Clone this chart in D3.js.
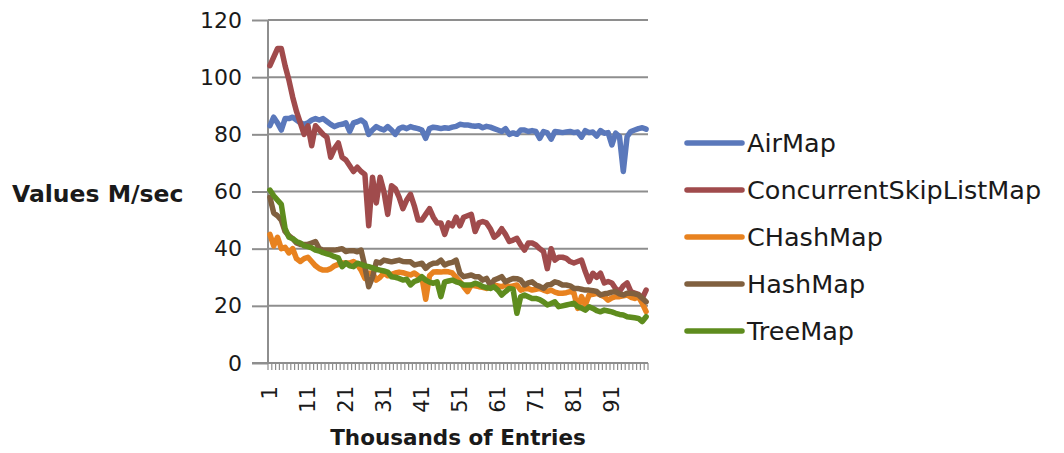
<!DOCTYPE html>
<html>
<head>
<meta charset="utf-8">
<script src="https://cdn.jsdelivr.net/npm/d3@7"></script>
<style>
  html, body { margin: 0; padding: 0; background: #fff; }
  svg { display: block; font-family: "DejaVu Sans", sans-serif; }
</style>
</head>
<body>
<svg id="chart" width="1064" height="453"></svg>
<script>
// Entries in thousands (x categories) and the labelled ones
const categories = d3.range(1, 101);
const xTickLabels = [1, 11, 21, 31, 41, 51, 61, 71, 81, 91];
const yTicks = [0, 20, 40, 60, 80, 100, 120];

const seriesNames = ["AirMap", "ConcurrentSkipListMap", "CHashMap", "HashMap", "TreeMap"];
const seriesColors = ["#5A78BB", "#A04B4C", "#E8821F", "#80603F", "#5E8C1E"];

// Throughput, millions of values per second
const airMap = [
  83, 86, 84, 81.5, 85.5, 85.5, 86, 85, 84, 83.5,
  84, 85, 85.5, 85, 85.5, 84.5, 83.5, 82.7, 83.3, 83.5,
  84, 81, 84, 84.4, 85, 84, 80, 81.5, 82.7, 82,
  81.5, 82.7, 81.5, 80, 82, 82.5, 82, 82.7, 82.3, 82,
  81.5, 78.6, 82, 82.5, 82.3, 82, 82.3, 82.1, 82.5, 82.8,
  83.5, 83.3, 83.3, 83, 82.8, 83, 82.3, 82.8, 82.5, 82,
  81.5, 81, 82, 80, 80.5, 80, 81.5, 81.5, 81, 81.3,
  81, 78.6, 81, 80.5, 78.3, 81, 80.8, 80.6, 80.8, 81,
  80.6, 80.8, 79, 81.3, 80.6, 80.8, 79.4, 81.3, 80.4, 80.6,
  76.3, 80.4, 79.2, 67, 79.2, 81, 81.5, 82, 82.3, 81.8
];
const concurrentSkipListMap = [
  104, 107, 110, 110, 104, 99, 93, 88, 84, 80,
  83, 76, 83, 81.5, 80, 79, 72, 75, 77, 72,
  71, 69, 67, 68.5, 67, 66, 48, 65, 56, 65,
  60, 52, 62, 61, 58, 54, 57, 59, 55, 50,
  50, 52, 54, 51, 49, 49, 45, 49, 48, 51,
  48, 51, 51.5, 52, 46, 49, 49.5, 49, 47, 44,
  45, 47, 45, 42.5, 43, 43.6, 41.3, 39.5, 42, 42,
  41.3, 40, 39, 33, 40, 36, 37, 37, 36.6, 35.5,
  35, 35.5, 36, 32, 28.5, 31.4, 30, 31.4, 28, 28.5,
  28, 26, 25, 27, 28, 25, 24.4, 24, 22.6, 25.5
];
const cHashMap = [
  45, 41, 44, 40, 40.5, 38.5, 40, 36.5, 35.5, 36.5,
  37, 35.5, 34, 33, 32.5, 32.5, 33, 34, 34.5, 35,
  35, 35, 35.5, 34.5, 32.5, 29.6, 31.4, 31.5, 29, 30,
  31.5, 30.5, 31, 31.5, 31.8, 31.6, 31.2, 30.8, 31.5, 30.5,
  30, 22.3, 30.5, 31.8, 31.9, 31.8, 32, 31.9, 31.5, 30,
  28.5, 26.7, 25, 27.3, 27, 26.7, 26.5, 26.1, 26.7, 27.3,
  27, 26.7, 27.3, 26.7, 27, 27.3, 25.5, 26, 26, 25.5,
  25.8, 26.1, 25.5, 25, 25.5, 24.8, 24.4, 24.4, 24.6, 25,
  24.5, 19.1, 23.2, 20.3, 23.8, 24, 24.4, 23.8, 23.2, 22,
  22.8, 23.2, 23.2, 23.5, 23.8, 23, 22.6, 23.2, 20.9, 18
];
const hashMap = [
  58, 52.5, 51.5, 50, 46, 44.5, 43.5, 42, 41.5, 41.5,
  41.5, 42, 42.5, 40, 39.5, 39.5, 39.5, 39.5, 39.7, 40,
  39, 39.3, 39.3, 38.9, 39.5, 33.7, 26.7, 30, 35.4, 35,
  36, 35.7, 35.4, 35.7, 36, 35.5, 35.4, 35.4, 34.3, 34.6,
  34.9, 33.1, 34.3, 34.9, 35, 36, 34.3, 34.9, 35.2, 36,
  31.4, 30.2, 30.5, 30.8, 30.2, 30.2, 29, 29.6, 27.3, 29,
  29.6, 30.2, 28.4, 29, 29.6, 29.5, 29, 27.3, 28, 28.4,
  27.3, 26.8, 26.1, 27.3, 27.5, 28.4, 28, 27.3, 27.3, 27,
  26.1, 26.1, 25.8, 25.5, 25.5, 25.3, 25, 23.8, 24.2, 24.4,
  24.8, 25, 24.2, 23.8, 24.4, 24.4, 24.2, 23.8, 22.6, 21.4
];
const treeMap = [
  60.5, 58.5, 57, 55.5, 47, 44, 43.5, 42.5, 42, 41,
  40.7, 40.3, 39.5, 39.2, 38.6, 38.2, 37.8, 37.2, 36.8, 33.7,
  35, 34, 33.7, 34.9, 34.5, 34, 33.7, 33.3, 32.8, 32.5,
  32.2, 31.8, 30.2, 30, 29.6, 29, 29.3, 27.3, 28.5, 29,
  30.2, 29, 28.3, 27.9, 28.4, 23.2, 28.4, 28.7, 29, 28.4,
  28, 27.3, 27.3, 27.3, 27.9, 27.5, 26.7, 26.4, 26.1, 26.7,
  25.5, 23.8, 25, 26.1, 25.8, 17.4, 23.2, 23.8, 23.2, 22.6,
  22.6, 22.2, 21.4, 20.3, 20.8, 21.4, 19.7, 20, 20.3, 20.6,
  20.9, 19.7, 19.2, 18.5, 19.7, 19.1, 18.3, 17.9, 18.5, 18.2,
  17.9, 17.4, 17, 16.8, 16.2, 16, 15.8, 15.6, 14.5, 16.2
];
const seriesValues = [airMap, concurrentSkipListMap, cHashMap, hashMap, treeMap];

const svg = d3.select("#chart");
const plot = { left: 268, right: 648, top: 20, bottom: 363 };
const gridColor = "#8e8e8e";
const textColor = "#1a1a1a";

const x = d3.scaleBand().domain(categories).range([plot.left, plot.right]).padding(0);
const y = d3.scaleLinear().domain([0, 120]).range([plot.bottom, plot.top]);

// Horizontal gridlines
svg.append("g")
  .selectAll("line")
  .data(yTicks.filter(d => d > 0))
  .join("line")
  .attr("x1", plot.left).attr("x2", plot.right)
  .attr("y1", d => y(d)).attr("y2", d => y(d))
  .attr("stroke", gridColor).attr("stroke-width", 2);

// Value axis
const yAxis = svg.append("g")
  .attr("transform", `translate(${plot.left},0)`)
  .call(d3.axisLeft(y).tickValues(yTicks).tickSize(16).tickPadding(10));
yAxis.attr("font-size", 22).attr("font-family", null);
yAxis.select(".domain").remove();
yAxis.selectAll(".tick line").attr("stroke", gridColor).attr("stroke-width", 2);
yAxis.selectAll(".tick text").attr("fill", textColor);

svg.append("line")
  .attr("x1", plot.left).attr("x2", plot.left)
  .attr("y1", plot.top).attr("y2", plot.bottom + 1)
  .attr("stroke", gridColor).attr("stroke-width", 2);

// Category axis: baseline, one tick between every category, rotated labels
svg.append("line")
  .attr("x1", plot.left - 16).attr("x2", plot.right)
  .attr("y1", plot.bottom).attr("y2", plot.bottom)
  .attr("stroke", gridColor).attr("stroke-width", 2);

const boundaries = categories.map(c => x(c)).concat([plot.right]);
svg.append("g")
  .selectAll("line")
  .data(boundaries)
  .join("line")
  .attr("x1", d => d).attr("x2", d => d)
  .attr("y1", plot.bottom).attr("y2", plot.bottom + 7)
  .attr("stroke", gridColor).attr("stroke-width", 1.2);

const xAxis = svg.append("g")
  .attr("transform", `translate(0,${plot.bottom})`)
  .call(d3.axisBottom(x).tickValues(xTickLabels).tickSize(0));
xAxis.attr("font-size", 21).attr("font-family", null);
xAxis.select(".domain").remove();
xAxis.selectAll(".tick text")
  .attr("fill", textColor)
  .attr("transform", "rotate(-90)")
  .attr("x", -23)
  .attr("y", 0)
  .attr("dy", "0.36em")
  .style("text-anchor", "end");

// Series lines
const line = d3.line()
  .x((d, i) => x(categories[i]) + x.bandwidth() / 2)
  .y(d => y(d));

svg.append("g")
  .selectAll("path")
  .data(seriesValues)
  .join("path")
  .attr("d", d => line(d))
  .attr("fill", "none")
  .attr("stroke", (d, i) => seriesColors[i])
  .attr("stroke-width", 5.5)
  .attr("stroke-linejoin", "round")
  .attr("stroke-linecap", "round");

// Legend
const legend = svg.append("g")
  .selectAll("g")
  .data(seriesNames)
  .join("g")
  .attr("transform", (d, i) => `translate(687,${143 + i * 47})`);
legend.append("line")
  .attr("x1", 0).attr("x2", 55)
  .attr("y1", 0).attr("y2", 0)
  .attr("stroke", (d, i) => seriesColors[i])
  .attr("stroke-width", 5.5)
  .attr("stroke-linecap", "round");
legend.append("text")
  .attr("x", 60)
  .attr("y", 0)
  .attr("dy", "0.36em")
  .attr("font-size", 25.5)
  .attr("fill", textColor)
  .text(d => d);

// Axis titles
svg.append("text")
  .attr("x", 12).attr("y", 202)
  .attr("font-size", 23.5).attr("font-weight", "bold")
  .attr("fill", textColor)
  .text("Values M/sec");

svg.append("text")
  .attr("x", 458).attr("y", 445)
  .attr("text-anchor", "middle")
  .attr("font-size", 21.5).attr("font-weight", "bold")
  .attr("fill", textColor)
  .text("Thousands of Entries");
</script>
</body>
</html>
